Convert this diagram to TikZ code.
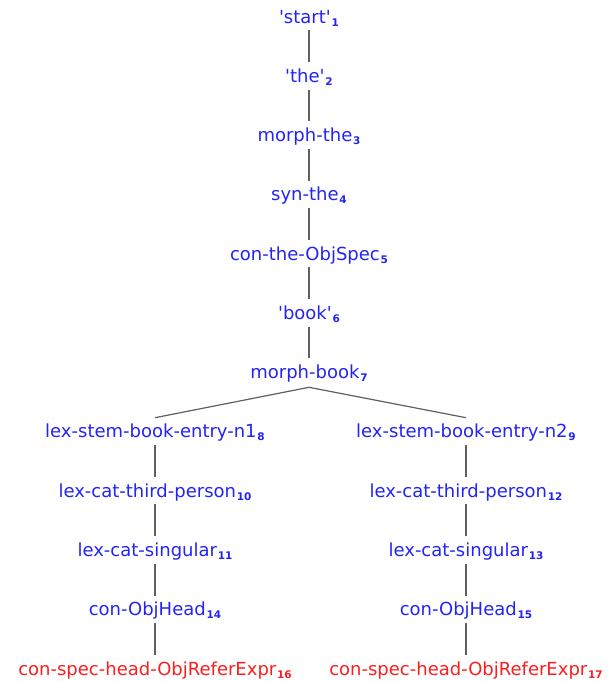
\documentclass[tikz,border=0pt]{standalone}
\usepackage{fontspec}
\setmainfont{DejaVu Sans}
\definecolor{nodeblue}{RGB}{35,35,245}
\definecolor{leafred}{RGB}{250,30,30}
\definecolor{edgegray}{RGB}{95,95,95}
% bold lowered index after a label
\newcommand{\idx}[1]{\kern0.8pt\raisebox{-3pt}{\fontsize{10.5}{10.5}\selectfont\bfseries #1}}
% straight quote marks around word labels
\newcommand{\wq}[1]{\textquotesingle#1\textquotesingle}
\tikzset{
  lbl/.style={anchor=base, inner sep=0pt, text height=14pt, text depth=4pt,
              font=\fontsize{18}{20}\selectfont, text=nodeblue},
  leaf/.style={lbl, text=leafred},
  edge/.style={draw=edgegray, line width=1.2pt, shorten <=3pt, shorten >=6pt},
  forkedge/.style={draw=edgegray, line width=1.2pt, shorten <=8pt},
}
\begin{document}
\begin{tikzpicture}[x=1pt,y=-1pt]
\useasboundingbox (0,0) rectangle (613,681);
% baselines of the rows: 23 + 59.27*i
\node[lbl] (n1)  at (309, 23.0)  {\wq{start}\idx{1}};
\node[lbl] (n2)  at (309, 82.3)  {\wq{the}\idx{2}};
\node[lbl] (n3)  at (309, 141.5) {morph-the\idx{3}};
\node[lbl] (n4)  at (309, 200.8) {syn-the\idx{4}};
\node[lbl] (n5)  at (309, 260.1) {con-the-ObjSpec\idx{5}};
\node[lbl] (n6)  at (309, 319.4) {\wq{book}\idx{6}};
\node[lbl] (n7)  at (309, 378.6) {morph-book\idx{7}};
% left branch
\node[lbl]  (n8)  at (155, 437.9) {lex-stem-book-entry-n1\idx{8}};
\node[lbl]  (n10) at (155, 497.2) {lex-cat-third-person\idx{10}};
\node[lbl]  (n11) at (155, 556.4) {lex-cat-singular\idx{11}};
\node[lbl]  (n14) at (155, 615.7) {con-ObjHead\idx{14}};
\node[leaf] (n16) at (155, 675.0) {con-spec-head-ObjReferExpr\idx{16}};
% right branch
\node[lbl]  (n9)  at (466, 437.9) {lex-stem-book-entry-n2\idx{9}};
\node[lbl]  (n12) at (466, 497.2) {lex-cat-third-person\idx{12}};
\node[lbl]  (n13) at (466, 556.4) {lex-cat-singular\idx{13}};
\node[lbl]  (n15) at (466, 615.7) {con-ObjHead\idx{15}};
\node[leaf] (n17) at (466, 675.0) {con-spec-head-ObjReferExpr\idx{17}};
% connectors
\foreach \a/\b in {n1/n2,n2/n3,n3/n4,n4/n5,n5/n6,n6/n7,
                   n8/n10,n10/n11,n11/n14,n14/n16,
                   n9/n12,n12/n13,n13/n15,n15/n17}
  \draw[edge] (\a.south) -- (\b.north);
% branch point: the fork ends just above each child label
\coordinate (fork8) at ([yshift=6pt]n8.north);
\coordinate (fork9) at ([yshift=6pt]n9.north);
\coordinate (forktop) at ([yshift=-4.5pt]n7.south);
\draw[edge, shorten <=0pt, shorten >=0pt] (forktop) -- (fork8);
\draw[edge, shorten <=0pt, shorten >=0pt] (forktop) -- (fork9);
\end{tikzpicture}
\end{document}
